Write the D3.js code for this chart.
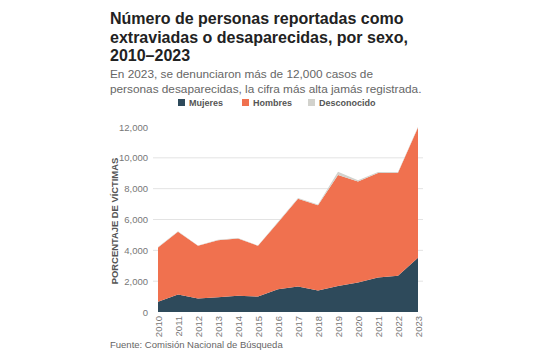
<!DOCTYPE html>
<html>
<head>
<meta charset="utf-8">
<script src="https://cdn.jsdelivr.net/npm/d3@7"></script>
<style>
  body { margin: 0; background: #fff; font-family: "Liberation Sans", Arial, sans-serif; }
</style>
</head>
<body>
<script>
const years = [2010, 2011, 2012, 2013, 2014, 2015, 2016, 2017, 2018, 2019, 2020, 2021, 2022, 2023]
const mujeres = [670, 1140, 870, 950, 1050, 1000, 1480, 1650, 1390, 1690, 1920, 2240, 2350, 3520]
const hombres = [3520, 4060, 3420, 3700, 3720, 3290, 4330, 5700, 5540, 7190, 6550, 6780, 6680, 8450]
const desconocido = [30, 30, 30, 30, 30, 30, 40, 50, 50, 220, 80, 60, 50, 50]
const yTicks = [0, 2000, 4000, 6000, 8000, 10000, 12000]
const series = ['Mujeres', 'Hombres', 'Desconocido']
const colors = ['#2e4a5b', '#f0714f', '#d2d2cd']

const width = 550
const height = 351

const svg = d3.select('body')
  .append('svg')
  .attr('width', width)
  .attr('height', height)

// titles
const title = ['Número de personas reportadas como', 'extraviadas o desaparecidas, por sexo,', '2010–2023']
svg.append('g')
  .selectAll('text')
  .data(title)
  .enter()
  .append('text')
  .attr('x', 110)
  .attr('y', (d, i) => 24 + i * 18.5)
  .attr('font-size', 16)
  .attr('font-weight', 'bold')
  .attr('fill', '#222')
  .text(d => d)

const subtitle = ['En 2023, se denunciaron más de 12,000 casos de', 'personas desaparecidas, la cifra más alta jamás registrada.']
svg.append('g')
  .selectAll('text')
  .data(subtitle)
  .enter()
  .append('text')
  .attr('x', 110)
  .attr('y', (d, i) => 78 + i * 14.5)
  .attr('font-size', 11.8)
  .attr('fill', '#666')
  .text(d => d)

// legend
const legendX = [178, 242, 308]
const legend = svg.append('g')
  .selectAll('g')
  .data(series)
  .enter()
  .append('g')
  .attr('transform', (d, i) => `translate(${legendX[i]},99)`)
legend.append('rect')
  .attr('width', 7)
  .attr('height', 7)
  .attr('fill', (d, i) => colors[i])
legend.append('text')
  .attr('x', 11)
  .attr('y', 7)
  .attr('font-size', 9)
  .attr('font-weight', 'bold')
  .attr('fill', '#555')
  .text(d => d)

// scales
const x = d3.scaleLinear().domain([2010, 2023]).range([158, 418])
const y = d3.scaleLinear().domain([0, 12000]).range([312, 127])

// gridlines
svg.append('g')
  .selectAll('line')
  .data(yTicks.filter(d => d > 0 && d < 12000))
  .enter()
  .append('line')
  .attr('x1', 153)
  .attr('x2', 423)
  .attr('y1', d => y(d))
  .attr('y2', d => y(d))
  .attr('stroke', '#e3e3e3')
  .attr('stroke-width', 1)

// stacked areas
const table = years.map((yr, i) => ({
  year: yr,
  Mujeres: mujeres[i],
  Hombres: hombres[i],
  Desconocido: desconocido[i]
}))
const stack = d3.stack().keys(series)(table)
const area = d3.area()
  .x(d => x(d.data.year))
  .y0(d => y(d[0]))
  .y1(d => y(d[1]))

svg.append('g')
  .selectAll('path')
  .data(stack)
  .enter()
  .append('path')
  .attr('d', area)
  .attr('fill', (d, i) => colors[i])

// y axis
const yAxis = svg.append('g')
  .attr('transform', 'translate(148,0)')
  .call(d3.axisLeft(y).tickValues(yTicks).tickFormat(d3.format(',')).tickSize(0).tickPadding(0))
yAxis.select('.domain').remove()
yAxis.selectAll('text')
  .attr('font-family', '"Liberation Sans", Arial, sans-serif')
  .attr('font-size', 9.5)
  .attr('fill', '#777')

// x axis
const xAxis = svg.append('g')
  .attr('transform', 'translate(0,315)')
  .call(d3.axisBottom(x).tickValues(years).tickFormat(d3.format('d')).tickSize(0).tickPadding(0))
xAxis.select('.domain').remove()
xAxis.selectAll('text')
  .attr('font-family', '"Liberation Sans", Arial, sans-serif')
  .attr('font-size', 9.5)
  .attr('fill', '#777')
  .attr('text-anchor', 'end')
  .attr('transform', 'rotate(-90)')
  .attr('x', -1)
  .attr('y', 0)
  .attr('dy', '0.35em')

// y axis title
svg.append('text')
  .attr('transform', 'translate(118,221) rotate(-90)')
  .attr('text-anchor', 'middle')
  .attr('font-size', 9.4)
  .attr('font-weight', 'bold')
  .attr('fill', '#555')
  .text('PORCENTAJE DE VÍCTIMAS')

// source
svg.append('text')
  .attr('x', 110)
  .attr('y', 348)
  .attr('font-size', 9.5)
  .attr('fill', '#666')
  .text('Fuente: Comisión Nacional de Búsqueda')
</script>
</body>
</html>
